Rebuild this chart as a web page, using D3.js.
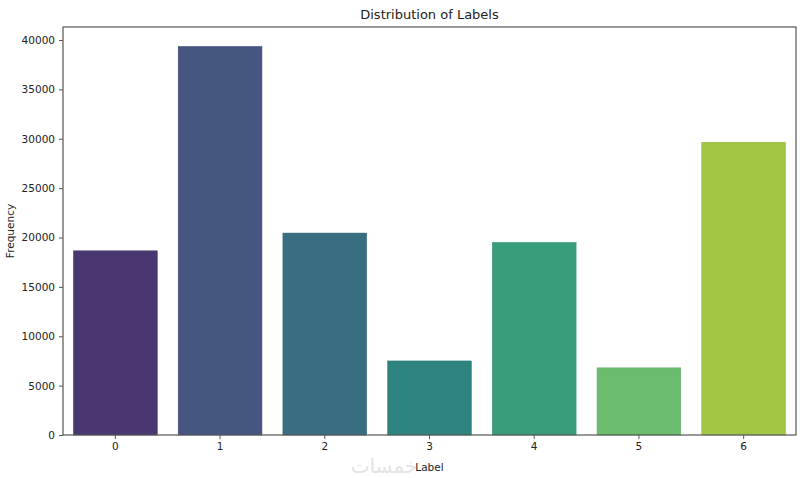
<!DOCTYPE html>
<html>
<head>
<meta charset="utf-8">
<script src="https://cdn.jsdelivr.net/npm/d3@7"></script>
<style>
  html, body { margin: 0; padding: 0; background: #fff; }
  svg { display: block; }
  text { font-family: "DejaVu Sans", sans-serif; fill: #222; }
</style>
</head>
<body>
<svg id="chart" width="800" height="478"></svg>
<script>
// ---- data ----
const categories = ["0", "1", "2", "3", "4", "5", "6"];
const frequencies = [18650, 39350, 20450, 7500, 19500, 6800, 29650];
const yTicks = [0, 5000, 10000, 15000, 20000, 25000, 30000, 35000, 40000];
const title = "Distribution of Labels";
const xLabel = "Label";
const yLabel = "Frequency";
const watermark = "خمسات";

// viridis palette (seaborn style, 7 colours) desaturated by 0.75
const baseColors = ["#472d7b", "#3b528b", "#2c728e", "#21918c", "#28ae80", "#5ec962", "#addc30"];
const colors = baseColors.map(c => { const h = d3.hsl(c); h.s *= 0.75; return h.formatHex(); });

const svg = d3.select("#chart");
const margin = { left: 63, right: 4, top: 27, bottom: 43 };
const W = 800, H = 478;
const x0 = margin.left, x1 = W - margin.right, y0 = margin.top, y1 = H - margin.bottom;

const x = d3.scaleBand().domain(categories).range([x0, x1]).paddingInner(0.2).paddingOuter(0.1);
const yMax = d3.max(frequencies) * 1.05;
const y = d3.scaleLinear().domain([0, yMax]).range([y1, y0]);

// watermark (behind everything)
svg.append("text").attr("x", 384).attr("y", 473).attr("text-anchor", "middle")
  .attr("font-size", 20).style("fill", "#e4e4e4").attr("font-family", "DejaVu Sans, sans-serif")
  .text(watermark);

// bars
svg.append("g").selectAll("rect").data(categories).join("rect")
  .attr("x", d => x(d))
  .attr("width", x.bandwidth())
  .attr("y", (d, i) => y(frequencies[i]))
  .attr("height", (d, i) => y1 - y(frequencies[i]))
  .attr("fill", (d, i) => colors[i])
  .attr("stroke", (d, i) => d3.color(colors[i]).darker(0.3))
  .attr("stroke-width", 0.5);

// axes
const xAxis = svg.append("g").attr("transform", `translate(0,${y1})`)
  .call(d3.axisBottom(x).tickSize(4).tickPadding(4));
const yAxis = svg.append("g").attr("transform", `translate(${x0},0)`)
  .call(d3.axisLeft(y).tickValues(yTicks).tickFormat(d3.format("d")).tickSize(4).tickPadding(4));
[xAxis, yAxis].forEach(g => {
  g.select(".domain").remove();
  g.selectAll(".tick line").attr("stroke", "#444").attr("stroke-width", 0.9);
  g.selectAll(".tick text").attr("font-size", 10.5).attr("font-family", "DejaVu Sans, sans-serif").attr("fill", "#222");
});

// frame (spines)
svg.append("rect").attr("x", x0).attr("y", y0).attr("width", x1 - x0).attr("height", y1 - y0)
  .attr("fill", "none").attr("stroke", "#555").attr("stroke-width", 1.2);

// title and labels
svg.append("text").attr("x", (x0 + x1) / 2).attr("y", 19).attr("text-anchor", "middle")
  .attr("font-size", 13).text(title);
svg.append("text").attr("x", (x0 + x1) / 2).attr("y", 471).attr("text-anchor", "middle")
  .attr("font-size", 10.5).text(xLabel);
svg.append("text").attr("transform", `translate(14,${(y0 + y1) / 2}) rotate(-90)`).attr("text-anchor", "middle")
  .attr("font-size", 10.5).text(yLabel);
</script>
</body>
</html>
